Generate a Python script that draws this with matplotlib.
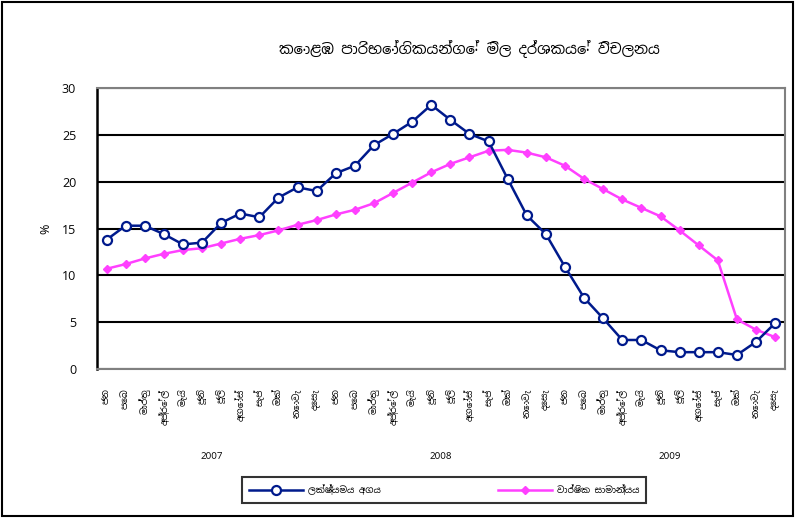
import matplotlib
matplotlib.use('Agg')
import matplotlib.pyplot as plt
from matplotlib import font_manager
import numpy as np

# month labels (Sinhala) and years
months = ['ජන', 'පෙබ', 'මාර්තු', 'අප්‍රේල්', 'මැයි', 'ජූනි',
          'ජූලි', 'අගෝස්', 'සැප්', 'ඔක්', 'නොවැ', 'දෙසැ']
years = ['2007', '2008', '2009']
xlabels = months * len(years)

# point-to-point CCPI inflation (%)
point_to_point = [13.8, 15.3, 15.3, 14.4, 13.3, 13.5, 15.6, 16.6, 16.2, 18.3, 19.4, 19.0,
                  20.9, 21.7, 23.9, 25.1, 26.4, 28.2, 26.6, 25.1, 24.3, 20.3, 16.4, 14.4,
                  10.9, 7.6, 5.4, 3.1, 3.1, 2.0, 1.8, 1.8, 1.8, 1.5, 2.9, 4.9]
# annual average (%)
annual_avg = [10.7, 11.2, 11.8, 12.3, 12.7, 12.9, 13.4, 13.9, 14.3, 14.8, 15.4, 15.9,
              16.5, 17.0, 17.7, 18.8, 19.9, 21.0, 21.9, 22.6, 23.3, 23.4, 23.1, 22.6,
              21.7, 20.3, 19.2, 18.1, 17.2, 16.3, 14.8, 13.2, 11.6, 5.3, 4.2, 3.4]

title = 'කොළඹ පාරිභෝගිකයන්ගේ මිල දර්ශකයේ විචලනය'
legend_labels = ['ලක්ෂ්‍යමය අගය', 'වාර්ෂික සාමාන්‍යය']

# use a Sinhala-capable font if one is installed
fams = []
for f in font_manager.fontManager.ttflist:
    if 'sinhala' in f.name.lower() or 'iskoola' in f.name.lower():
        if f.name not in fams:
            fams.append(f.name)
plt.rcParams['font.family'] = fams + ['Liberation Sans', 'DejaVu Sans']

fig = plt.figure(figsize=(7.95, 5.18), dpi=100)
ax = fig.add_axes([0.122, 0.2876, 0.865, 0.5425])

x = np.arange(len(point_to_point))
ax.plot(x, point_to_point, color='#001a8c', lw=1.8, marker='o', ms=6.5,
        mfc='white', mec='#001a8c', mew=1.6, label=legend_labels[0], zorder=4)
ax.plot(x, annual_avg, color='#ff40ff', lw=1.8, marker='D', ms=4,
        mfc='#ff40ff', mec='#ff40ff', label=legend_labels[1], zorder=3)

ax.set_xlim(-0.5, len(x) - 0.5)
ax.set_ylim(0, 30)
ax.set_yticks(np.arange(0, 31, 5))
ax.yaxis.grid(True, color='black', lw=1.5)
ax.set_axisbelow(True)
ax.tick_params(axis='y', length=0, labelsize=9, pad=15)
ax.set_ylabel('%', fontsize=9, fontweight='bold', labelpad=7)

ax.set_xticks(x)
ax.set_xticklabels(xlabels, rotation=90, fontsize=6.5, va='top')
ax.tick_params(axis='x', length=0, pad=14)

for s in ['top', 'right', 'bottom']:
    ax.spines[s].set_color('#808080')
    ax.spines[s].set_linewidth(1.5)
ax.spines['left'].set_linewidth(1.8)

for i, yr in enumerate(years):
    ax.text(12 * i + 5.5, -0.31, yr, transform=ax.get_xaxis_transform(),
            ha='center', va='center', fontsize=7)

fig.text(0.59, 0.905, title, ha='center', va='center', fontsize=10.5, fontweight='bold')

leg = fig.legend(loc='center', bbox_to_anchor=(0.5585, 0.054), ncol=2,
                 frameon=True, fancybox=False, fontsize=6.5, handlelength=6,
                 columnspacing=13, borderpad=0.8, handletextpad=0.5)
leg.get_frame().set_edgecolor('black')
leg.get_frame().set_linewidth(1.5)

fig.patches.append(plt.Rectangle((0.002, 0.003), 0.995, 0.993, transform=fig.transFigure,
                                 fill=False, edgecolor='black', lw=1.5))

fig.savefig('out.png', dpi=100)
